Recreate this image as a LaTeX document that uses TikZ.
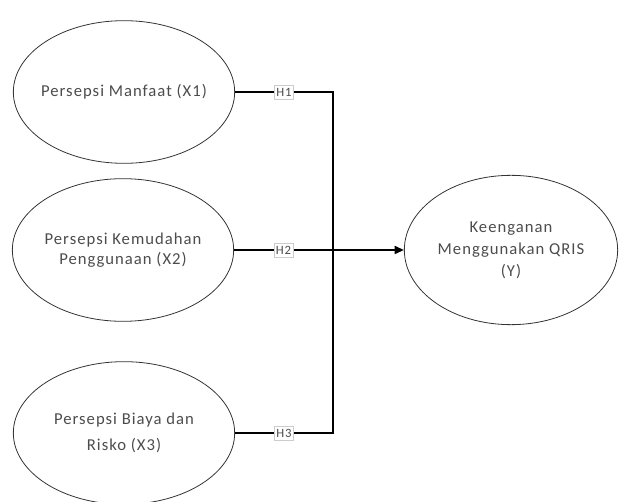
\documentclass[tikz,border=0pt]{standalone}
\usepackage{fontspec}
\setmainfont{Carlito}[LetterSpace=6]
\usepackage{xcolor}
\usepackage{tikz}
\usetikzlibrary{shapes.geometric, arrows.meta, positioning}

\begin{document}
\begin{tikzpicture}[x=0.75pt, y=-0.75pt, var/.style={ellipse, draw=black!80, line width=0.6pt, inner xsep=-40pt, inner ysep=-30pt, minimum width=166pt, minimum height=107pt, align=center, text=black!70, font=\fontsize{12.5}{19}\selectfont}, conn/.style={line width=1.4pt}, hyp/.style={fill=white, draw=black!20, line width=0.4pt, inner xsep=1.3pt, inner ysep=2.2pt, text=black!70, font=\fontsize{9.5}{10}\selectfont}]
  \useasboundingbox (0,0) rectangle (619,502);
  \node[var] (x1) at (124,92) {Persepsi Manfaat (X1)};
  \node[var, font=\fontsize{12.5}{14.5}\selectfont] (x2) at (123,250) {Persepsi Kemudahan\\Penggunaan (X2)};
  \node[var] (x3) at (124,433) {Persepsi Biaya dan\\Risko (X3)};
  \node[var, minimum width=160pt, minimum height=112pt, font=\fontsize{12.5}{16.5}\selectfont] (y) at (511,250) {Keenganan\\Menggunakan QRIS\\(Y)};
  \coordinate (j) at (333,250);
  \draw[conn] (x1.east) -- node[hyp] {H1} (x1.east -| j) -- (j);
  \draw[conn] (x2.east) -- node[hyp] {H2} (j);
  \draw[conn] (x3.east) -- node[hyp] {H3} (x3.east -| j) -- (j);
  \draw[conn, -{Triangle[length=7pt, width=6pt]}] (j) -- (y.west);
\end{tikzpicture}
\end{document}
